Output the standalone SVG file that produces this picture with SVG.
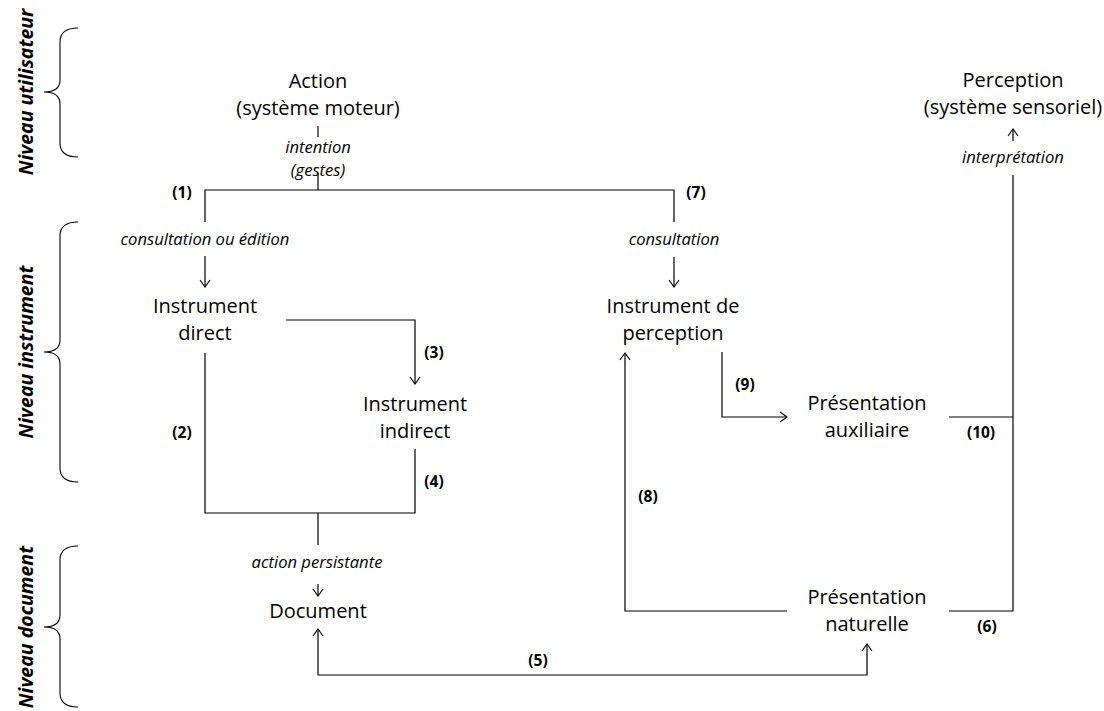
<svg xmlns="http://www.w3.org/2000/svg" width="1104" height="711" viewBox="0 0 1104 711">
<defs>
<marker id="arr" viewBox="0 0 12 12" refX="11" refY="6" markerWidth="12" markerHeight="12" markerUnits="userSpaceOnUse" orient="auto-start-reverse">
<path d="M4,1 L11,6 L4,11" fill="none" stroke="#000" stroke-width="1.1"/>
</marker>
<style>
.n{font-family:"Open Sans","Liberation Sans",sans-serif;font-size:20px;fill:#000;text-anchor:middle}
.l{font-family:"Open Sans","Liberation Sans",sans-serif;font-size:16.6px;font-style:italic;fill:#000;text-anchor:middle}
.b{font-family:"Open Sans","Liberation Sans",sans-serif;font-size:15.5px;font-weight:bold;fill:#000;text-anchor:middle}
.v{font-family:"Open Sans","Liberation Sans",sans-serif;font-size:19.5px;font-weight:bold;font-style:italic;fill:#000;text-anchor:middle}
.c{fill:none;stroke:#000;stroke-width:1.2}
.br{fill:none;stroke:#000;stroke-width:1.1}
</style>
</defs>
<rect width="1104" height="711" fill="#fff"/>
<g id="levels">
<text class="v" transform="translate(33,92) rotate(-90)">Niveau utilisateur</text>
<text class="v" transform="translate(33,352) rotate(-90)">Niveau instrument</text>
<text class="v" transform="translate(33,627) rotate(-90)">Niveau document</text>
<path class="br" d="M78,28 C66,28 60,32 60,42 L60,80 C60,88 54,92 44,92 C54,92 60,96 60,104 L60,143 C60,153 66,157 78,157"/>
<path class="br" d="M78,222 C66,222 60,226 60,236 L60,340 C60,348 54,352 44,352 C54,352 60,356 60,364 L60,468 C60,478 66,482 78,482"/>
<path class="br" d="M78,546 C66,546 60,550 60,560 L60,615 C60,623 54,627 44,627 C54,627 60,631 60,639 L60,693 C60,703 66,707 78,707"/>
</g>
<g id="connectors">
<line class="c" x1="318" y1="126" x2="318" y2="137"/>
<path class="c" d="M318,173 V190 M205,222 V190 H674 V222"/>
<line class="c" x1="205" y1="256" x2="205" y2="287" marker-end="url(#arr)"/>
<line class="c" x1="674" y1="257" x2="674" y2="287" marker-end="url(#arr)"/>
<path class="c" d="M286,320 H415 V384" marker-end="url(#arr)"/>
<path class="c" d="M205,353 V513 H415 V449 M318,513 V545"/>
<line class="c" x1="318" y1="584" x2="318" y2="596" marker-end="url(#arr)"/>
<path class="c" d="M318,629 V675 H867 V644" marker-start="url(#arr)" marker-end="url(#arr)"/>
<path class="c" d="M787,611 H625 V353" marker-end="url(#arr)"/>
<path class="c" d="M722,352 V417 H787" marker-end="url(#arr)"/>
<path class="c" d="M949,417 H1013 M949,611 H1013 V175"/>
<line class="c" x1="1013" y1="141" x2="1013" y2="129" marker-end="url(#arr)"/>
<text class="l" x="318" y="153">intention</text>
<text class="l" x="318" y="176">(gestes)</text>
<text class="l" x="205" y="245">consultation ou édition</text>
<text class="l" x="674" y="245">consultation</text>
<text class="l" x="317" y="568">action persistante</text>
<text class="l" x="1013" y="163">interprétation</text>
<text class="b" x="182" y="198">(1)</text>
<text class="b" x="696" y="198">(7)</text>
<text class="b" x="182" y="438">(2)</text>
<text class="b" x="434" y="358">(3)</text>
<text class="b" x="434" y="487">(4)</text>
<text class="b" x="538" y="666">(5)</text>
<text class="b" x="648" y="502">(8)</text>
<text class="b" x="745" y="390">(9)</text>
<text class="b" x="981" y="438">(10)</text>
<text class="b" x="987" y="632">(6)</text>
</g>
<g id="action"><text class="n" x="318" y="88">Action</text><text class="n" x="318" y="115">(système moteur)</text></g>
<g id="perception"><text class="n" x="1013" y="87">Perception</text><text class="n" x="1013" y="114">(système sensoriel)</text></g>
<g id="instrument-direct"><text class="n" x="205" y="313">Instrument</text><text class="n" x="205" y="340">direct</text></g>
<g id="instrument-indirect"><text class="n" x="415" y="411">Instrument</text><text class="n" x="415" y="438">indirect</text></g>
<g id="instrument-perception"><text class="n" x="673" y="313">Instrument de</text><text class="n" x="673" y="340">perception</text></g>
<g id="presentation-auxiliaire"><text class="n" x="867" y="410">Présentation</text><text class="n" x="867" y="437">auxiliaire</text></g>
<g id="presentation-naturelle"><text class="n" x="867" y="604">Présentation</text><text class="n" x="867" y="631">naturelle</text></g>
<g id="document"><text class="n" x="318" y="618">Document</text></g>
</svg>
